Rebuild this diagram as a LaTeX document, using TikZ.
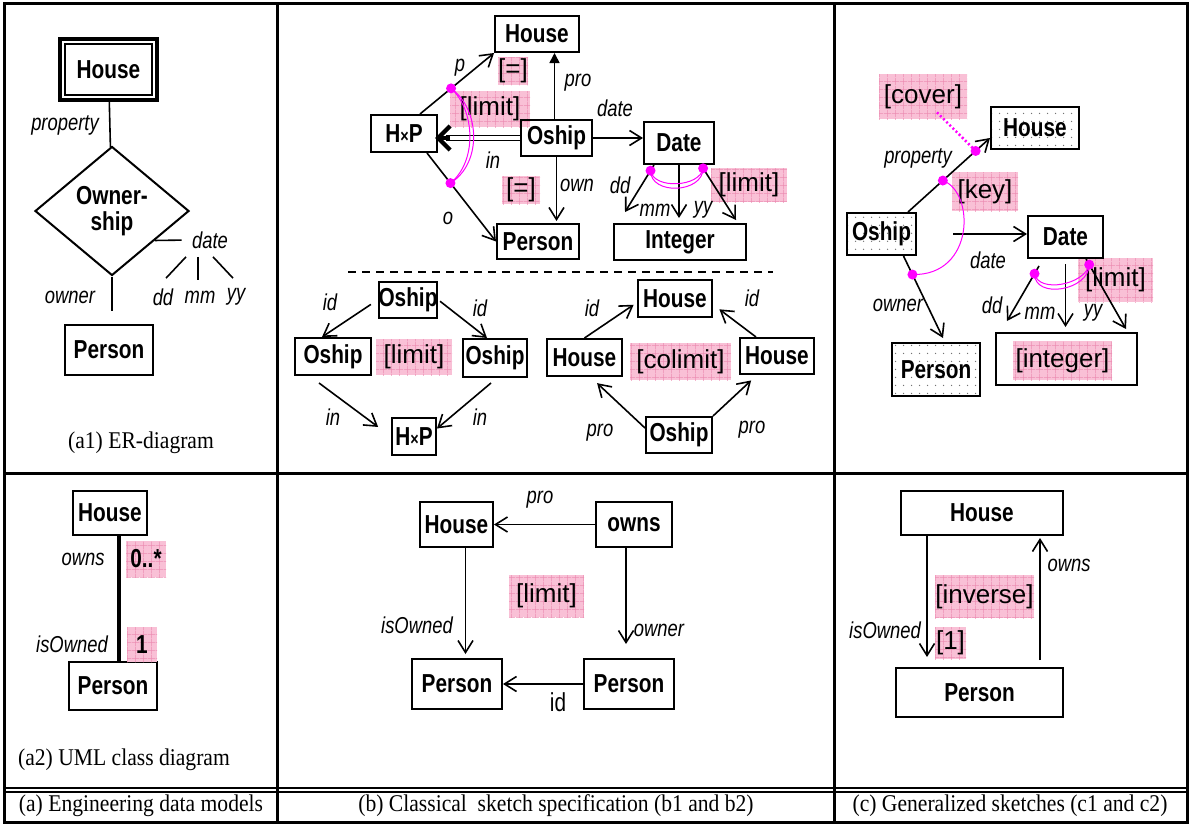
\documentclass[tikz,border=0pt]{standalone}
\usepackage{fontspec}
\setmainfont{Liberation Serif}[FakeStretch=0.9]
\newfontfamily\narrowsf[FakeStretch=0.8]{Liberation Sans}
\newfontfamily\plainsf{Liberation Sans}
\usetikzlibrary{arrows.meta, calc, shapes.geometric, patterns.meta}

\definecolor{hlpink}{RGB}{249,192,214}
\definecolor{hlgrid}{RGB}{236,140,178}
\definecolor{mag}{RGB}{255,0,255}

\newcommand\boxfont{\narrowsf\bfseries\fontsize{13pt}{14pt}\selectfont}
\newcommand\lblfont{\narrowsf\itshape\fontsize{11.5pt}{13pt}\selectfont}
\newcommand\hlfont{\plainsf\fontsize{13pt}{15pt}\selectfont}
\newcommand\tabcapfont{\fontsize{12pt}{14pt}\selectfont}

\tikzset{
  box/.style={draw, line width=1pt, inner sep=0pt, font=\boxfont},
  dotbox/.style={box, pattern={Dots[distance=4pt, radius=0.4pt]}, pattern color=black!55},
  hl/.style={fill=hlpink, inner sep=0pt, font=\hlfont,
    postaction={pattern={Hatch[angle=0, distance=4pt, line width=0.3pt]}, pattern color=hlgrid}},
  lbl/.style={font=\lblfont, inner sep=1pt},
  captext/.style={font=\tabcapfont},
  tabline/.style={line width=1.5pt},
  arr/.style={line width=0.8pt, -{Straight Barb[length=6pt,width=7.5pt]}},
  tri/.style={line width=0.8pt, -{Triangle[length=5pt,width=5pt]}},
  mdot/.style={circle, fill=mag, inner sep=0pt, minimum size=5pt},
  magline/.style={mag, line width=0.5pt},
  magdot/.style={mag, line width=1.3pt, dash pattern=on 1pt off 1.2pt},
}

\begin{document}
\begin{tikzpicture}[x=0.5pt, y=-0.5pt]
\useasboundingbox (0,0) rectangle (1194,825);

% Table frame
\draw[tabline] (4,3) rectangle (1187,822);
\draw[tabline] (277,3) -- (277,822);
\draw[tabline] (834,3) -- (834,822);
\draw[tabline] (4,473) -- (1187,473);
\draw[line width=1pt] (4,788) -- (1187,788);
\draw[line width=1pt] (4,792) -- (1187,792);

% (a1) ER-diagram
\node[box, line width=2pt, minimum width=48.5pt, minimum height=30.5pt] (aHouse) at (108.5,69.5) {House};
\draw[line width=1pt] ($(aHouse.north west)+(7,7)$) rectangle ($(aHouse.south east)+(-7,-7)$);
\node[diamond, draw, line width=1pt, minimum width=77pt, minimum height=64.5pt, inner sep=0pt, align=center, font=\boxfont] (aOship) at (112,211) {Owner-\\[-1pt]ship};
\node[box, minimum width=44pt, minimum height=25pt] (aPerson) at (109,350) {Person};
\draw[line width=0.8pt] (aHouse) -- (aOship);
\draw[line width=0.8pt, shorten >=6.5pt] (aOship.south) -- (aOship.south |- aPerson.north);
\node[lbl] at (65,125) {property};
\node[lbl] at (70,297) {owner};
\node[lbl] (aDate) at (210,240) {date};
\node[lbl] (aDd) at (163,297) {dd};
\node[lbl] (aMm) at (200,297) {mm};
\node[lbl] (aYy) at (236,297) {yy};
\draw[line width=0.8pt, shorten >=4pt] ($(aOship.east)!0.45!(aOship.south)$) -- (aDate.west);
\draw[line width=0.8pt] ([xshift=-12pt,yshift=-3pt]aDate.south) -- ([xshift=1.5pt,yshift=4pt]aDd.north);
\draw[line width=0.8pt] ([xshift=-6pt,yshift=-3pt]aDate.south) -- ([xshift=-1pt,yshift=4pt]aMm.north);
\draw[line width=0.8pt] ([xshift=1.5pt,yshift=-3pt]aDate.south) -- ([xshift=-1.5pt,yshift=4pt]aYy.north);
\node[captext] at (141,443) {(a1) ER-diagram};

% (a2) UML class diagram
\node[box, minimum width=37pt, minimum height=22pt] (uHouse) at (110,513) {House};
\node[box, minimum width=44pt, minimum height=24pt] (uPerson) at (113,686) {Person};
\draw[line width=1.6pt] ([xshift=4.5pt]uHouse.south) -- ([xshift=4.5pt]uHouse.south |- uPerson.north);
\node[hl, font=\boxfont, minimum width=20pt, minimum height=18pt] at (146,559) {0..*};
\node[hl, font=\boxfont, minimum width=15pt, minimum height=17.5pt] at (142,644.5) {1};
\node[lbl] at (83,559) {owns};
\node[lbl] at (72,644) {isOwned};
\node[captext] at (124,760) {(a2) UML class diagram};

% (b1) classical sketch, upper part
\node[hl, minimum width=15pt, minimum height=14pt] at (513,71) {[=]};
\node[hl, minimum width=40pt, minimum height=18pt] at (490,109) {[limit]};
\node[hl, minimum width=19pt, minimum height=14pt] at (521,190) {[=]};
\node[hl, minimum width=38pt, minimum height=17pt] at (749,185) {[limit]};
\node[box, minimum width=42pt, minimum height=18pt] (sHouse) at (537,34) {House};
\node[box, minimum width=33pt, minimum height=18.5pt] (sHxP) at (404,133.5) {H{\fontsize{9pt}{9pt}\selectfont ×}P};
\node[box, minimum width=35.5pt, minimum height=18pt] (sOship) at (556.5,138) {Oship};
\node[box, minimum width=35pt, minimum height=21pt] (sDate) at (679,143) {Date};
\node[box, minimum width=41pt, minimum height=17.5pt] (sPerson) at (538,241.5) {Person};
\node[box, minimum width=66pt, minimum height=18pt] (sInteger) at (680,242) {Integer};
\draw[arr] ([xshift=-9pt]sHxP.north east) -- node[mdot, pos=0.42] (pDot) {} (sHouse.south west);
\draw[arr] ([xshift=-5.5pt]sHxP.south east) -- node[mdot, pos=0.34] (oDot) {} (sPerson.west);
\draw[tri] ([xshift=-1pt]sOship.north) -- ([xshift=-1pt]sOship.north |- sHouse.south);
\draw[arr, shorten >=1pt] (sOship.south) -- (sOship.south |- sPerson.north);
\draw[arr] (sOship.east) -- (sOship.east -| sDate.west);
\draw[line width=0.8pt, double distance=1.6pt, shorten >=4pt] (sOship.west) -- (sOship.west -| sHxP.east);
\draw[line width=2.2pt, -{Straight Barb[length=6pt,width=12pt]}, shorten >=-1.5pt] ($(sOship.west -| sHxP.east)+(12,0)$) -- (sOship.west -| sHxP.east);
\draw[magline] (pDot.center) .. controls +(29,21) and +(32,-20) .. (oDot.center);
\draw[magline] (pDot.center) .. controls +(24,22) and +(27,-22) .. (oDot.center);
\draw[arr] ([xshift=5.5pt]sDate.south west) -- node[mdot, pos=0.12] (dDot) {} ([xshift=6pt,yshift=5.5pt]sInteger.north west);
\draw[arr, shorten >=2.5pt] (sDate.south) -- (sDate.south |- sInteger.north);
\draw[arr] ([xshift=-7pt]sDate.south east) -- node[mdot, pos=0.06] (yDot) {} ([xshift=-5.5pt,yshift=1.5pt]sInteger.north east);
\draw[magline] (dDot.center) .. controls +(0,25) and +(0,25) .. (yDot.center);
\draw[magline] (dDot.center) .. controls +(3,19) and +(-3,19) .. (yDot.center);
\node[lbl] at (460,68) {p};
\node[lbl] at (578,83) {pro};
\node[lbl] at (615,108) {date};
\node[lbl] at (493,160) {in};
\node[lbl] at (577,185) {own};
\node[lbl] at (448,218) {o};
\node[lbl] at (620,185) {dd};
\node[lbl] at (655,210) {mm};
\node[lbl] at (703,210) {yy};

% separator of b1
\draw[line width=0.8pt, dash pattern=on 4pt off 3pt] (348,272) -- (773,272);

% (b1) limit of the two inclusions
\node[hl, minimum width=38pt, minimum height=18pt] at (414,357) {[limit]};
\node[box, minimum width=29pt, minimum height=18pt] (liTop) at (408,300) {Oship};
\node[box, minimum width=38pt, minimum height=18.5pt] (liLeft) at (333,356.5) {Oship};
\node[box, minimum width=32pt, minimum height=19pt] (liRight) at (495,358) {Oship};
\node[box, minimum width=22pt, minimum height=18.5pt] (liBot) at (414,436.5) {H{\fontsize{9pt}{9pt}\selectfont ×}P};
\draw[arr, shorten <=4pt] (liTop.west) -- ([xshift=14pt]liLeft.north west);
\draw[arr, shorten <=1pt] (liTop.east) -- ([xshift=-20.5pt]liRight.north east);
\draw[arr, shorten >=8pt] ([xshift=12.5pt,yshift=-3.5pt]liLeft.south west) -- (liBot.west);
\draw[arr] ([xshift=-18.5pt,yshift=-2.5pt]liRight.south east) -- ([yshift=4pt]liBot.east);
\node[lbl] at (330,302) {id};
\node[lbl] at (480,308) {id};
\node[lbl] at (333,417) {in};
\node[lbl] at (480,417) {in};

% (b1) colimit of the two projections
\node[hl, minimum width=50.5pt, minimum height=18.5pt] at (680.5,361.5) {[colimit]};
\node[box, minimum width=37pt, minimum height=18.5pt] (coTop) at (675,298.5) {House};
\node[box, minimum width=37.5pt, minimum height=18.5pt] (coLeft) at (584.5,357.5) {House};
\node[box, minimum width=37pt, minimum height=18pt] (coRight) at (777,356) {House};
\node[box, minimum width=33pt, minimum height=18pt] (coBot) at (679,435) {Oship};
\draw[arr, shorten >=2pt] (coLeft.north) -- ([yshift=-2pt]coTop.west);
\draw[arr, shorten >=4pt] ([xshift=-10.5pt]coRight.north) -- ([yshift=-3pt]coTop.east);
\draw[arr, shorten >=4.5pt] ([yshift=3.5pt]coBot.west) -- ([xshift=3pt]coLeft.south);
\draw[arr, shorten >=4pt] (coBot.north east) -- ([xshift=-10pt]coRight.south);
\node[lbl] at (592,308) {id};
\node[lbl] at (752,298) {id};
\node[lbl] at (600,433) {pro};
\node[lbl] at (752,430) {pro};

% (b2) classical sketch of the UML model
\node[hl, minimum width=37.5pt, minimum height=21pt] at (546.5,596) {[limit]};
\node[box, minimum width=36.5pt, minimum height=22.5pt] (wHouse) at (456.5,524.5) {House};
\node[box, minimum width=38pt, minimum height=22.5pt] (wOwns) at (634,524.5) {owns};
\node[box, minimum width=45pt, minimum height=25pt] (wPersonL) at (457,684) {Person};
\node[box, minimum width=45pt, minimum height=25pt] (wPersonR) at (629,684) {Person};
\draw[arr] (wOwns.west) -- (wHouse.east);
\draw[arr, shorten >=2pt] ([xshift=4.5pt]wHouse.south) -- ([xshift=4.5pt]wHouse.south |- wPersonL.north);
\draw[arr, shorten >=7pt] ([xshift=-4pt]wOwns.south) -- ([xshift=-4pt]wOwns.south |- wPersonR.north);
\draw[arr] (wPersonR.west) -- (wPersonL.east);
\node[lbl] at (540,500) {pro};
\node[lbl] at (417,625) {isOwned};
\node[lbl] at (659,630) {owner};
\node[font={\narrowsf\fontsize{13pt}{14pt}\selectfont}] at (558,702) {id};

% (c1) generalized sketch
\node[hl, minimum width=44pt, minimum height=22.5pt] (gCover) at (923,96.5) {[cover]};
\node[hl, minimum width=33pt, minimum height=19.5pt] (gKey) at (985,191.5) {[key]};
\node[hl, minimum width=37.5pt, minimum height=22pt] (gLimit) at (1115.5,280) {[limit]};
\node[dotbox, minimum width=44pt, minimum height=21pt] (gHouse) at (1035,128) {House};
\node[dotbox, minimum width=34.5pt, minimum height=21pt] (gOship) at (881.5,234) {Oship};
\node[box, minimum width=37.5pt, minimum height=21pt] (gDate) at (1065.5,237) {Date};
\node[dotbox, minimum width=44pt, minimum height=26.5pt] (gPerson) at (936,369.5) {Person};
\node[box, minimum width=70.5pt, minimum height=26pt] (gInteger) at (1066.5,359) {};
\node[hl, minimum width=49.5pt, minimum height=19.5pt] at (1062.5,360.5) {[integer]};
\draw[arr] ([xshift=-4.5pt]gOship.north east) -- node[mdot, pos=0.425] (kDot) {} node[mdot, pos=0.825] (cDot) {} ([yshift=6pt]gHouse.south west);
\draw[magdot] ([xshift=7pt,yshift=3.5pt]gCover.south) -- (cDot.center);
\draw[arr, shorten <=18pt] (gOship.east) -- (gOship.east -| gDate.west);
\draw[arr] ([xshift=11pt]gOship.south) -- node[mdot, pos=0.226] (gOwnDot) {} ([xshift=3.5pt,yshift=2pt]gPerson.north);
\draw[magline] (kDot.center) .. controls (975,192) and (975,276) .. (gOwnDot.center);
\draw[arr] ([xshift=6pt,yshift=-3.5pt]gDate.south west) -- node[mdot, pos=0.14] (gdDot) {} ([xshift=6pt,yshift=5.5pt]gInteger.north west);
\draw[arr, shorten <=2.5pt, shorten >=2.5pt] (gDate.south) -- (gDate.south |- gInteger.north);
\draw[arr] ([xshift=-9pt]gDate.south east) -- node[mdot, pos=0.08] (gyDot) {} ([xshift=-6pt,yshift=1.5pt]gInteger.north east);
\draw[magline] (gdDot.center) .. controls +(0,26) and +(0,26) .. (gyDot.center);
\draw[magline] (gdDot.center) .. controls +(4,20) and +(-4,20) .. (gyDot.center);
\node[lbl] at (918,158) {property};
\node[lbl] at (898,305) {owner};
\node[lbl] at (988,260) {date};
\node[lbl] at (992,305) {dd};
\node[lbl] at (1040,313) {mm};
\node[lbl] at (1093,313) {yy};

% (c2) generalized sketch of the UML model
\node[hl, minimum width=49.5pt, minimum height=21.5pt] at (984.5,596.5) {[inverse]};
\node[hl, minimum width=15.5pt, minimum height=16pt] at (950.5,643) {[1]};
\node[box, minimum width=81pt, minimum height=22pt] (vHouse) at (982,513) {House};
\node[box, minimum width=83.5pt, minimum height=24.5pt] (vPerson) at (979.5,692.5) {Person};
\draw[arr, shorten >=5pt] ([xshift=-27.5pt]vHouse.south) -- ([xshift=-27.5pt]vHouse.south |- vPerson.north);
\draw[arr, shorten <=3.5pt, shorten >=1pt] ([xshift=30.25pt]vPerson.north) -- ([xshift=30.25pt]vPerson.north |- vHouse.south);
\node[lbl] at (885,630) {isOwned};
\node[lbl] at (1069,565) {owns};

% Caption row
\node[captext] at (141,806) {(a) Engineering data models};
\node[captext] at (556,806) {(b) Classical\ \ sketch specification (b1 and b2)};
\node[captext] at (1010,806) {(c) Generalized sketches (c1 and c2)};
\end{tikzpicture}
\end{document}
